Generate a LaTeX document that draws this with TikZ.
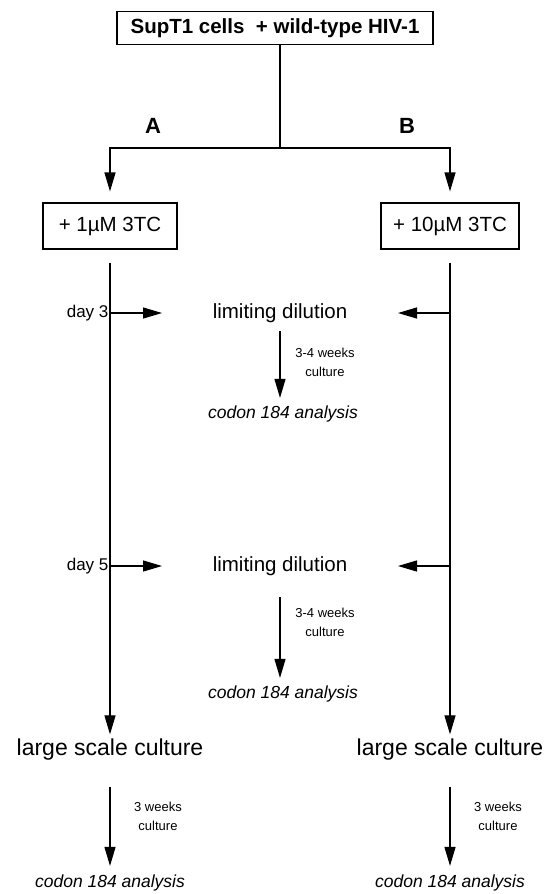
\documentclass[tikz,border=0pt]{standalone}
\usepackage{fontspec}
\setmainfont{Liberation Sans}
\usetikzlibrary{arrows.meta}
\begin{document}
\begin{tikzpicture}[x=1pt,y=1pt,
  line width=1.2pt,
  arr/.style={-{Triangle[length=19pt,width=11pt]}},
  boxn/.style={draw,line width=1.1pt,minimum height=46pt,font=\fontsize{20.5}{24}\selectfont},
  dayl/.style={anchor=east,inner sep=1pt,font=\fontsize{17}{20}\selectfont},
  ldil/.style={font=\fontsize{20.5}{24}\selectfont},
  small/.style={align=center,font=\fontsize{13}{19}\selectfont},
  codon/.style={font=\itshape\fontsize{17.5}{20}\selectfont},
  lsc/.style={font=\fontsize{23}{26}\selectfont},
  lab/.style={font=\bfseries\fontsize{22}{26}\selectfont}]
\useasboundingbox (0,0) rectangle (548,-894);
% top
\node[draw,line width=1.1pt,minimum width=316pt,minimum height=33pt,inner xsep=2pt,font=\bfseries\fontsize{20.5}{24}\selectfont] (top) at (275,-28) {SupT1 cells\ \ + wild-type HIV-1};
\coordinate (j) at (280,-148);
\draw (top.south -| j) -- (j);
\node[lab] (A) at (153,-126) {A};
\node[lab] (B) at (407,-126) {B};
% boxes
\node[boxn,minimum width=134pt] (bA) at (110,-226) {+ 1µM 3TC};
\node[boxn,minimum width=138pt] (bB) at (450,-226) {+ 10µM 3TC};
\draw[arr,shorten >=11pt] (j) -| (bA.north);
\draw[arr,shorten >=11pt] (j) -| (bB.north);
% large scale culture
\node[lsc] (lA) at (110,-750) {large scale culture};
\node[lsc] (lB) at (450,-750) {large scale culture};
\draw[arr,shorten <=13pt,shorten >=1pt] (bA.south) -- (lA.north);
\draw[arr,shorten <=13pt,shorten >=1pt] (bB.south) -- (lB.north);
% day 3 row
\coordinate (s3L) at (110,-313);
\coordinate (s3R) at (450,-313);
\coordinate (t3L) at (162,-313);
\coordinate (t3R) at (398,-313);
\node[dayl] (d3) at (s3L) {day 3};
\node[ldil] (ld1) at (280,-313) {limiting dilution};
\draw[arr] (s3L) -- (t3L);
\draw[arr] (s3R) -- (t3R);
\node[codon] (c1) at (283,-414) {codon 184 analysis};
\draw[arr,shorten <=5pt,shorten >=4pt] (ld1.south) -- (ld1.south |- c1.north);
\node[small] (w1) at (325,-362) {3-4 weeks\\culture};
% day 5 row
\coordinate (s5L) at (110,-566);
\coordinate (s5R) at (450,-566);
\coordinate (t5L) at (162,-566);
\coordinate (t5R) at (398,-566);
\node[dayl] (d5) at (s5L) {day 5};
\node[ldil] (ld2) at (280,-566) {limiting dilution};
\draw[arr] (s5L) -- (t5L);
\draw[arr] (s5R) -- (t5R);
\node[codon] (c2) at (283,-694) {codon 184 analysis};
\draw[arr,shorten <=18pt,shorten >=4pt] (ld2.south) -- (ld2.south |- c2.north);
\node[small] (w2) at (325,-622) {3-4 weeks\\culture};
% bottom
\node[codon] (c3) at (110,-883) {codon 184 analysis};
\node[codon] (c4) at (450,-883) {codon 184 analysis};
\draw[arr,shorten <=22pt,shorten >=5pt] (lA.south) -- (lA.south |- c3.north);
\draw[arr,shorten <=22pt,shorten >=5pt] (lB.south) -- (lB.south |- c4.north);
\node[small] (w3) at (158,-816) {3 weeks\\culture};
\node[small] (w4) at (498,-816) {3 weeks\\culture};
\end{tikzpicture}
\end{document}
